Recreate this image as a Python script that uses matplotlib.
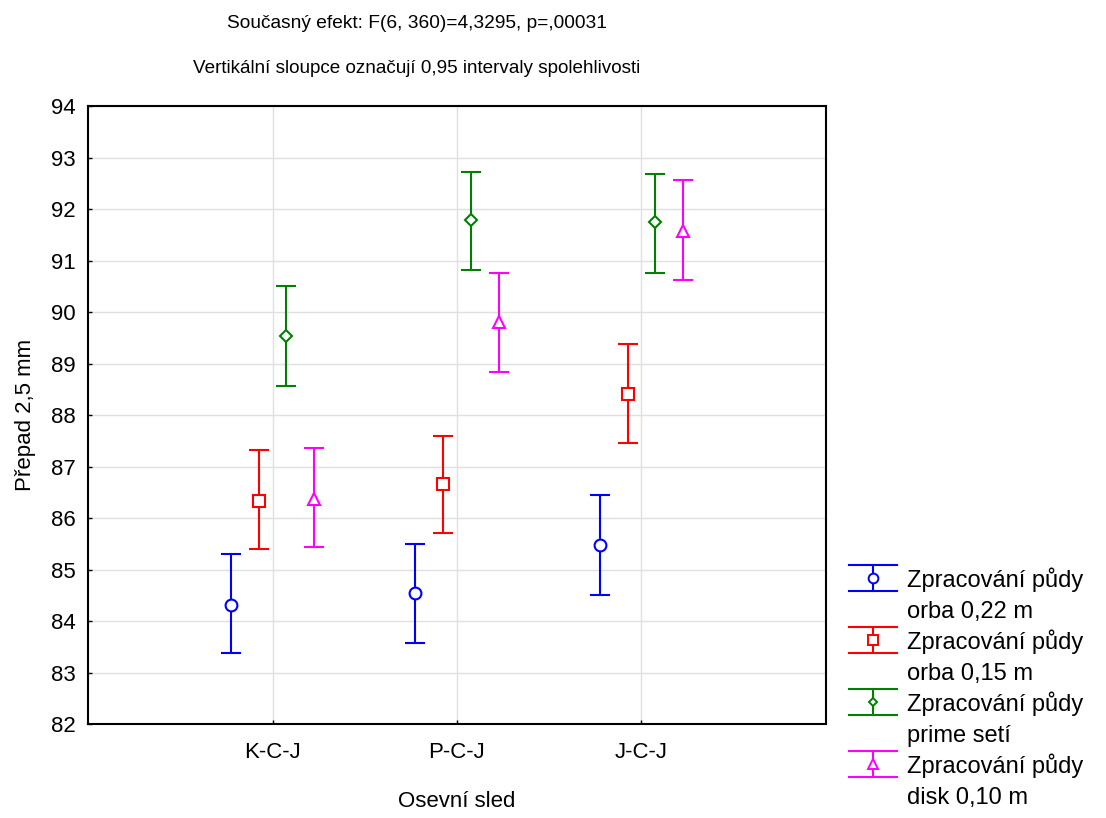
import matplotlib.pyplot as plt
import numpy as np
from matplotlib.legend_handler import HandlerBase
from matplotlib.lines import Line2D

plt.rcParams['font.family'] = ['Liberation Sans', 'DejaVu Sans']

categories = ['K-C-J', 'P-C-J', 'J-C-J']
series = ['Zpracování půdy\norba 0,22 m', 'Zpracování půdy\norba 0,15 m',
          'Zpracování půdy\nprime setí', 'Zpracování půdy\ndisk 0,10 m']

# means and 0.95 CI bounds per series (K-C-J, P-C-J, J-C-J)
means = [[84.32, 84.55, 85.47],
         [86.34, 86.67, 88.41],
         [89.53, 91.79, 91.74],
         [86.37, 89.81, 91.58]]
lower = [[83.37, 83.58, 84.51],
         [85.40, 85.70, 87.45],
         [88.57, 90.82, 90.76],
         [85.44, 88.84, 90.63]]
upper = [[85.31, 85.50, 86.44],
         [87.32, 87.60, 89.38],
         [90.51, 92.72, 92.68],
         [87.35, 90.76, 92.56]]

colors = ['#0000ff', '#ff0000', '#008000', '#ff00ff']
markers = ['o', 's', 'D', '^']
msizes = [8.5, 8, 6, 8]
offsets = [-0.225, -0.075, 0.075, 0.225]


class ErrHandler(HandlerBase):
    def __init__(self, color, marker, ms):
        super().__init__()
        self.color = color
        self.marker = marker
        self.ms = ms

    def create_artists(self, legend, orig_handle, xdescent, ydescent,
                       width, height, fontsize, trans):
        x0, x1 = -xdescent, -xdescent + width
        xm = (x0 + x1) / 2
        # centre the handle on the first text line
        ym = -ydescent + height / 2 + 0.74 * fontsize
        yb, yt = ym - 9.3, ym + 9.3
        arts = [
            Line2D([x0, x1], [yt, yt], color=self.color, lw=1.5),
            Line2D([x0, x1], [yb, yb], color=self.color, lw=1.5),
            Line2D([xm, xm], [yb, yt], color=self.color, lw=1.5),
            Line2D([xm], [ym], color=self.color, marker=self.marker,
                   ms=self.ms, mfc='white', mew=1.4, ls='none'),
        ]
        for a in arts:
            a.set_transform(trans)
        return arts


fig = plt.figure(figsize=(11.06, 8.18), dpi=100)
ax = fig.add_axes([0.0796, 0.1149, 0.6672, 0.7555])

x = np.arange(len(categories))
handles = []
for i in range(len(series)):
    m = np.array(means[i])
    err = [m - np.array(lower[i]), np.array(upper[i]) - m]
    h = ax.errorbar(x + offsets[i], m, yerr=err, fmt=markers[i], color=colors[i],
                    ms=msizes[i], mfc='white', mec=colors[i], mew=1.5,
                    elinewidth=1.5, capsize=7.5, capthick=1.5, zorder=3)
    handles.append(h)

ax.set_xlim(-1, 3)
ax.set_ylim(82, 94)
ax.set_xticks(x)
ax.set_xticklabels(categories)
ax.set_yticks(np.arange(82, 95, 1))
ax.grid(True, color='#e0e0e0', lw=1)
ax.set_axisbelow(True)
ax.tick_params(direction='in', length=3, width=1, labelsize=16)
ax.tick_params(axis='y', pad=9)
ax.tick_params(axis='x', pad=13)
for s in ax.spines.values():
    s.set_linewidth(1.5)

ax.set_xlabel('Osevní sled', fontsize=16, labelpad=20)
ax.set_ylabel('Přepad 2,5 mm', fontsize=16, labelpad=11)
fig.text(0.377, 0.9715, 'Současný efekt: F(6, 360)=4,3295, p=,00031',
         ha='center', va='center', fontsize=13.8)
fig.text(0.377, 0.9165, 'Vertikální sloupce označují 0,95 intervaly spolehlivosti',
         ha='center', va='center', fontsize=13.6)

hmap = {handles[i]: ErrHandler(colors[i], markers[i], msizes[i] - 1.5)
        for i in range(len(series))}
leg = fig.legend(handles, series, loc='lower left', bbox_to_anchor=(0.751, -0.012),
                 frameon=False, fontsize=17, handler_map=hmap, handlelength=2.0,
                 handletextpad=0.45, labelspacing=0.28, borderpad=0.3)
for t in leg.get_texts():
    t.set_linespacing(1.52)

fig.savefig('out.png', dpi=100)
